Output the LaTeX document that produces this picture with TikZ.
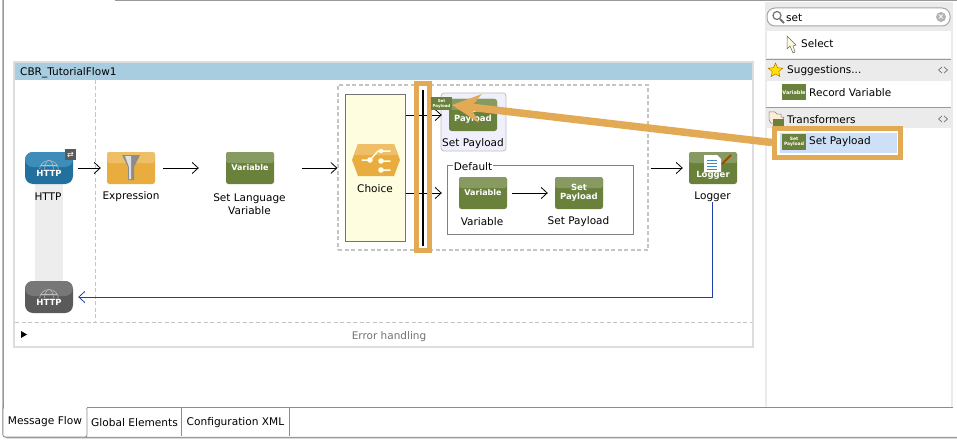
\documentclass[tikz,border=0pt]{standalone}
\usepackage{fontspec}
\setmainfont{DejaVu Sans}
\usetikzlibrary{arrows.meta,shapes.geometric}
\definecolor{headBlue}{HTML}{A8CDE0}
\definecolor{frameGray}{HTML}{DDDDDD}
\definecolor{dashGray}{HTML}{C4C4C4}
\definecolor{greenLo}{HTML}{6A813C}
\definecolor{greenHi}{HTML}{869A62}
\definecolor{blueLo}{HTML}{23709F}
\definecolor{blueHi}{HTML}{3D8DB8}
\definecolor{grayLo}{HTML}{5A5A5A}
\definecolor{grayHi}{HTML}{777777}
\definecolor{amberLo}{HTML}{E8AC3F}
\definecolor{amberHi}{HTML}{EFBF68}
\definecolor{markOrange}{HTML}{E3AA56}
\definecolor{choiceYellow}{HTML}{FEFDDF}
\definecolor{hoverBlue}{HTML}{EFF0FC}
\definecolor{rowBlue}{HTML}{CDE0F7}
\definecolor{returnBlue}{HTML}{1F3FA8}
\tikzset{
  caption/.style={font=\fontsize{10.5}{13}\selectfont, text=black, inner sep=0pt, align=center},
  tabcaption/.style={caption, font=\fontsize{10.6}{12}\selectfont},
  icon/.style={rectangle, rounded corners=2.5pt, minimum width=48, minimum height=32, inner sep=0pt,
    text=white, align=center, font=\bfseries\fontsize{8}{9}\selectfont},
  twotone/.style n args={2}{icon, fill=#1, path picture={
    \fill[#2] (path picture bounding box.north west) rectangle
      ([yshift=-11]path picture bounding box.north east);}},
  greenicon/.style={twotone={greenLo}{greenHi}},
  smallgreen/.style={rectangle, minimum width=24, minimum height=16, inner sep=0pt, fill=greenLo,
    text=white, align=center, font=\bfseries\fontsize{4.5}{5}\selectfont},
  iconword/.style={text=white, font=\bfseries\fontsize{8.5}{9}\selectfont, inner sep=0pt},
  flow/.style={-{Straight Barb[length=6pt,width=11pt]}, line width=0.8pt, black},
  dashline/.style={dashGray, line width=1pt, dash pattern=on 4pt off 2.5pt},
  markframe/.style={draw=markOrange, line width=5pt, inner sep=0pt},
}
\begin{document}
\begin{tikzpicture}[x=1pt,y=-1pt]
  \useasboundingbox (0,0) rectangle (957,441);
  % window
  \draw[gray!80, line width=1pt] (115,0.5) -- (957,0.5);
  \draw[gray!80, line width=1.5pt, rounded corners=4pt] (3,0) -- (3,437.5) -- (957,437.5);
  % palette
  \fill[black!8] (765,2) rectangle (953,407);
  \fill[white] (767,31) rectangle (951,58);
  \fill[white] (767,81) rectangle (951,107);
  \fill[white] (767,128) rectangle (951,407);
  \draw[black!40, line width=1pt] (766,59.5) -- (951,59.5);
  \draw[black!40, line width=1pt] (766,107.5) -- (951,107.5);
  \node[draw=black!35, line width=1pt, fill=white, rounded corners=8pt, minimum width=183, minimum height=18, inner sep=0pt] (searchbox) at (858.5,17) {};
  \draw[black!55, line width=1.2pt] (777,15.5) circle (4);
  \draw[black!55, line width=1.8pt] (780,19) -- (784,23);
  \node[caption, anchor=west] (searchtext) at (786,18) {set};
  \node[circle, fill=black!30, minimum size=10, inner sep=0pt, text=white, font=\bfseries\fontsize{8}{8}\selectfont] (searchclear) at (941,17) {×};
  \draw[fill=choiceYellow, draw=black!60, line width=0.5pt] (787,36) -- (787,49) -- (790,46) -- (793,53) -- (795,52) -- (793,46) -- (796,45) -- cycle;
  \node[caption, anchor=west] (selecttext) at (801,44) {Select};
  \node[star, star points=5, star point ratio=2.2, fill=yellow!85!orange, draw=orange!70!black, line width=0.4pt, minimum size=15, inner sep=0pt] (sugstar) at (775.5,70.5) {};
  \node[caption, anchor=west] (sugtext) at (787,71) {Suggestions...};
  \node[smallgreen, font=\bfseries\fontsize{5}{6}\selectfont] (recordicon) at (794,92.5) {Variable};
  \node[caption, anchor=west] (recordtext) at (809,93) {Record Variable};
  \draw[fill=orange!15, draw=black!50, line width=0.5pt] (769,120) -- (769,112) -- (775,112) -- (777,114) -- (781,114) -- (781,117) -- (784,117) -- (781,123) -- (771,123) -- cycle;
  \fill[greenLo] (773,119) rectangle (784,126);
  \node[caption, anchor=west] (transtext) at (787,120) {Transformers};
  \foreach \y in {70,119} {
    \draw[black!55, line width=0.7pt] (942,\y-3) -- (938.5,\y) -- (942,\y+3) (944,\y-3) -- (947.5,\y) -- (944,\y+3);
  }
  \node[draw=white, line width=1pt, fill=rowBlue, minimum width=118, minimum height=21, inner sep=0pt] (payrow) at (838,142.5) {};
  \node[smallgreen] (rowicon) at (794,142) {Set\\Payload};
  \node[caption, anchor=west] (rowtext) at (809,142) {Set Payload};
  \node[markframe, minimum width=126, minimum height=29] (rowmark) at (837.5,142.5) {};
  % flow frame
  \fill[frameGray] (13,61) rectangle (754,348);
  \fill[white] (15,63) rectangle (752,346);
  \node[fill=headBlue, minimum width=737, minimum height=17, inner sep=0pt] (flowhead) at (383.5,71.5) {};
  \node[caption, anchor=west] (flowtitle) at (20,73) {CBR\_TutorialFlow1};
  \draw[dashline] (95,80) -- (95,322);
  \draw[dashline] (15,322.5) -- (752,322.5);
  \fill[black] (21,331) -- (27,334.5) -- (21,338) -- cycle;
  \node[caption, text=black!55] (errortext) at (389,337) {Error handling};
  % source and return
  \fill[black!7] (35,170) rectangle (63,290);
  \node[icon, fill=blueLo, rounded corners=8pt, path picture={\fill[blueHi] (path picture bounding box.north west) rectangle ([yshift=-15]path picture bounding box.north east);}] (httpin) at (49,168) {};
  \node[icon, fill=grayLo, rounded corners=8pt, path picture={\fill[grayHi] (path picture bounding box.north west) rectangle ([yshift=-15]path picture bounding box.north east);}] (httpout) at (49,297) {};
  \foreach \n in {httpin,httpout} {
    \draw[white!75!black, line width=0.5pt] ([yshift=-2]\n.center) circle (9.5);
    \draw[white!75!black, line width=0.5pt] ([yshift=-2]\n.center) ellipse (4.5 and 9.5);
    \draw[white!75!black, line width=0.5pt] ([xshift=-9.5,yshift=-2]\n.center) -- ([xshift=9.5,yshift=-2]\n.center);
    \draw[white!75!black, line width=0.5pt] ([xshift=-8,yshift=3]\n.center) -- ([xshift=8,yshift=3]\n.center);
    \draw[white!75!black, line width=0.5pt] ([xshift=-8,yshift=-7]\n.center) -- ([xshift=8,yshift=-7]\n.center);
  }
  \fill[blueLo] (28,169) rectangle (70,182);
  \fill[grayLo] (28,298) rectangle (70,311);
  \node[iconword] (httpinlabel) at (49,173) {HTTP};
  \node[iconword] (httpoutlabel) at (49,302) {HTTP};
  \node[fill=black!65, minimum size=11, inner sep=0pt, text=white, font=\fontsize{8}{8}\selectfont] (httpbadge) at (70.5,154.5) {⇄};
  \node[caption] (httpcap) at (48,197) {HTTP};
  % processors
  \node[twotone={amberLo}{amberHi}] (expr) at (131,168) {};
  \fill[black!45] (122,155) -- (140,155) -- (134,167) -- (134,180) -- (128,180) -- (128,167) -- cycle;
  \fill[black!12] (125,156) -- (131,156) -- (131,179) -- (129,179) -- (129,167) -- cycle;
  \node[caption] (exprcap) at (131,197) {Expression};
  \node[greenicon] (setlang) at (250,168) {Variable};
  \node[caption] (setlangcap) at (249.5,204) {Set Language\\Variable};
  % choice scope
  \node[draw=dashGray, line width=1.2pt, dash pattern=on 4pt off 2.5pt, minimum width=310, minimum height=165, inner sep=0pt] (scope) at (493,167.5) {};
  \node[draw=black!55, line width=0.8pt, fill=choiceYellow, minimum width=60, minimum height=147, inner sep=0pt] (choicebox) at (375.5,167.5) {};
  \fill[amberLo] (358,144) -- (394,144) -- (400,160) -- (394,176) -- (358,176) -- (352,160) -- cycle;
  \fill[amberHi] (358,144) -- (394,144) -- (398,155) -- (354,155) -- cycle;
  \draw[white!90!yellow, line width=1.5pt, line cap=round] (370,160) -- (378,151) -- (390,151) (370,160) -- (362,160) (381,161) -- (390,161) (381,170) -- (390,170);
  \fill[white!90!yellow] (370,160) circle (2.8) (381,151) circle (2.2) (381,161) circle (2.8) (381,170) circle (2.8);
  \node[caption] (choicecap) at (375,189) {Choice};
  % branch
  \node[draw=black!25, line width=0.8pt, fill=hoverBlue, rounded corners=3pt, minimum width=65, minimum height=58, inner sep=0pt] (payhover) at (473.5,122) {};
  \node[greenicon, font=\bfseries\fontsize{8.5}{9.5}\selectfont] (payone) at (473,115) {Set\\Payload};
  \node[caption] (payonecap) at (473,144) {Set Payload};
  \node[draw=black!50, line width=0.8pt, minimum width=186, minimum height=69, inner sep=0pt] (defbox) at (540,199.5) {};
  \node[caption, fill=white, inner sep=1pt] (defcap) at (473,166.5) {Default};
  \node[greenicon] (vartwo) at (483,193) {Variable};
  \node[caption] (vartwocap) at (482,222) {Variable};
  \node[greenicon, font=\bfseries\fontsize{8.5}{9.5}\selectfont] (paytwo) at (579,193) {Set\\Payload};
  \node[caption] (paytwocap) at (578.5,222) {Set Payload};
  \node[greenicon] (logger) at (713,168) {};
  \fill[white] (704,155) -- (717,155) -- (721,159) -- (721,172) -- (704,172) -- cycle;
  \foreach \y in {160,163,166,169} {
    \draw[blueHi, line width=1pt] (707,\y) -- (717,\y);
  }
  \draw[orange!60!black, line width=2pt] (722,164) -- (731,155);
  \node[iconword] (loggerlabel) at (713,175) {Logger};
  \node[caption] (loggercap) at (712.5,197) {Logger};
  % connectors
  \draw[flow, shorten <=5pt, shorten >=6pt] (httpin) -- (expr);
  \draw[flow, shorten <=8pt, shorten >=27pt] (expr) -- (setlang);
  \draw[flow, shorten <=28pt] (setlang) -- (scope.west |- setlang);
  \draw[flow, shorten >=7pt] (choicebox.east |- payone) -- (payone);
  \draw[flow, shorten >=17pt] (choicebox.east |- vartwo) -- (vartwo);
  \draw[flow, shorten <=5pt, shorten >=7pt] (vartwo) -- (paytwo);
  \draw[flow, shorten <=2pt, shorten >=6pt] (scope.east |- logger) -- (logger);
  \draw[returnBlue, line width=0.8pt, -{Straight Barb[length=6pt,width=11pt]}, shorten >=5pt] (loggercap.south) -- (loggercap.south |- httpout) -- (httpout);
  % marks
  \node[markframe, minimum width=13, minimum height=166] (barmark) at (422.5,167) {};
  \node[fill=black, minimum width=2.5, minimum height=156, inner sep=0pt] (dropbar) at (423,168) {};
  \node[smallgreen, minimum width=21, minimum height=13, font=\bfseries\fontsize{4}{4.5}\selectfont] (dragicon) at (441.5,104) {Set\\Payload};
  \coordinate (droptip) at (452,105);
  \draw[markOrange, line width=7.5pt, -{Stealth[length=28pt,width=28pt,inset=9pt]}] (rowmark.west) -- (droptip);
  % tabs
  \draw[black!45, line width=0.8pt] (3,407) -- (953,407);
  \node[draw=black!45, line width=0.8pt, fill=white, rounded corners=2pt, minimum width=84, minimum height=30, inner sep=0pt, font=\fontsize{10.6}{12}\selectfont] (tabflow) at (45,422) {Message Flow};
  \fill[white] (4,404) rectangle (86.6,408);
  \draw[black!45, line width=0.8pt] (3,407) -- (3,404);
  \node[tabcaption] (tabglobal) at (134.5,423) {Global Elements};
  \node[tabcaption] (tabxml) at (235.5,423) {Configuration XML};
  \draw[black!45, line width=0.8pt] (181.5,407) -- (181.5,436) (289.5,407) -- (289.5,436);
\end{tikzpicture}
\end{document}
